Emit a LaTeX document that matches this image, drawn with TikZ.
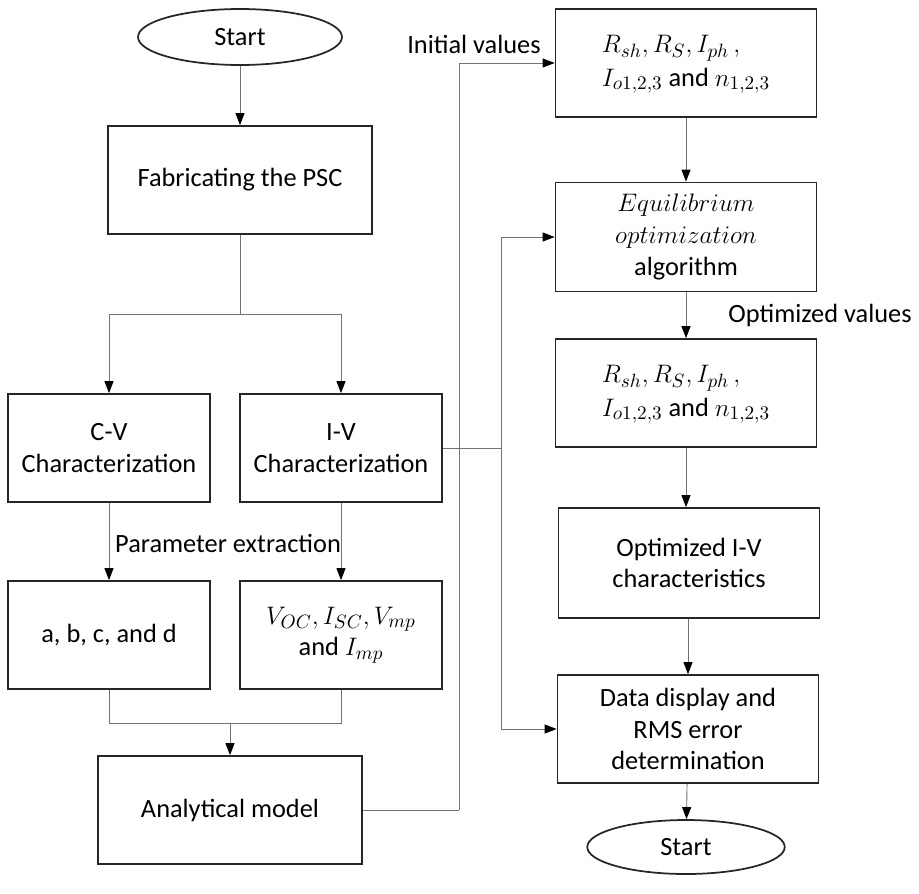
\documentclass[tikz,border=0pt]{standalone}
\usepackage{fontspec}
\setmainfont{Carlito}
\usetikzlibrary{shapes.geometric,arrows.meta}

\tikzset{
  txt/.style={font=\fontsize{15pt}{18pt}\selectfont, text=black},
  box/.style={txt, draw=black!85, line width=0.035cm, align=center, inner sep=0pt},
  lbox/.style={box, minimum width=4.04cm, minimum height=2.16cm},
  rbox/.style={box, minimum width=5.22cm, minimum height=2.16cm},
  terminal/.style={txt, draw=black!85, line width=0.035cm, ellipse, minimum width=4.08cm, minimum height=1.12cm, inner sep=0pt},
  link/.style={draw=black!55, line width=0.018cm},
  flow/.style={link, -{Triangle[length=0.24cm,width=0.18cm,color=black]}},
}

\begin{document}
\begin{tikzpicture}[x=0.02cm,y=-0.02cm]
                    \useasboundingbox (0,0) rectangle (919,893);

                    % Left column
                    \node [terminal] (start) at (240,37) {Start};
                    \node [box, minimum width=5.28cm, minimum height=2.16cm] (fab) at (240,180) {Fabricating the PSC};
                    \node [lbox] (cv) at (109,448) {C-V\\Characterization};
                    \node [lbox] (iv) at (341,448) {I-V\\Characterization};
                    \node [lbox] (abcd) at (109,635) {a, b, c, and d};
                    \node [lbox] (voc) at (341,635) {$V_{OC}, I_{SC}, V_{mp}$\\and $I_{mp}$};
                    \node [box, minimum width=5.28cm, minimum height=2.16cm] (anal) at (230,810) {Analytical model};

                    % Right column
                    \node [rbox] (init) at (686,63) {\begin{tabular}{@{}l@{}}$R_{sh}, R_S, I_{ph}\,,$\\[1pt]$I_{o1,2,3}$ and $n_{1,2,3}$\end{tabular}};
                    \node [rbox, minimum height=2.18cm] (equi) at (686,237) {$Equilibrium$\\$optimization$\\algorithm};
                    \node [rbox] (optv) at (686,393) {\begin{tabular}{@{}l@{}}$R_{sh}, R_S, I_{ph}\,,$\\[1pt]$I_{o1,2,3}$ and $n_{1,2,3}$\end{tabular}};
                    \node [rbox, minimum height=2.2cm] (optiv) at (689,563) {Optimized I-V\\characteristics};
                    \node [rbox] (disp) at (688,729) {Data display and\\RMS error\\determination};
                    \node [terminal, minimum width=3.95cm, minimum height=1.08cm] (stop) at (686,847) {Start};

                    % Labels on the connectors
                    \node [txt] (lblinit) at (474,44) {Initial values};
                    \node [txt] (lblpar) at (228,543) {Parameter extraction};
                    \node [txt] (lblopt) at (820,315) {Optimized values};

                    % Junction points
                    \coordinate (split) at (240,314);
                    \coordinate (join) at (230,723);
                    \coordinate (busa) at (459,810);
                    \coordinate (busb) at (501,448);

                    % Drawing segment start fab
                    \draw [flow] (start) -- (fab);%

                    % Drawing segment fab cv, fab iv
                    \draw [link] (fab) -- (split);%
                    \draw [flow] (split) -| (cv);%
                    \draw [flow] (split) -| (iv);%

                    % Drawing segment cv abcd, iv voc
                    \draw [flow] (cv) -- (abcd);%
                    \draw [flow] (iv) -- (voc);%

                    % Drawing segment abcd voc anal
                    \draw [link] (abcd) |- (join) -| (voc);%
                    \draw [flow] (join) -- (anal);%

                    % Drawing segment anal init
                    \draw [link] (anal) -- (busa);%
                    \draw [flow] (busa) |- (init);%

                    % Drawing segment iv equi, iv disp
                    \draw [link] (iv) -- (busb);%
                    \draw [flow] (busb) |- (equi);%
                    \draw [flow] (busb) |- (disp);%

                    % Drawing segment down the right column
                    \draw [flow] (init) -- (equi);%
                    \draw [flow] (equi) -- (optv);%
                    \draw [flow] (optv.south) -- (optv.south |- optiv.north);%
                    \draw [flow] (optiv.south -| disp) -- (disp);%
                    \draw [flow] (disp) -- (stop);%
\end{tikzpicture}
\end{document}
